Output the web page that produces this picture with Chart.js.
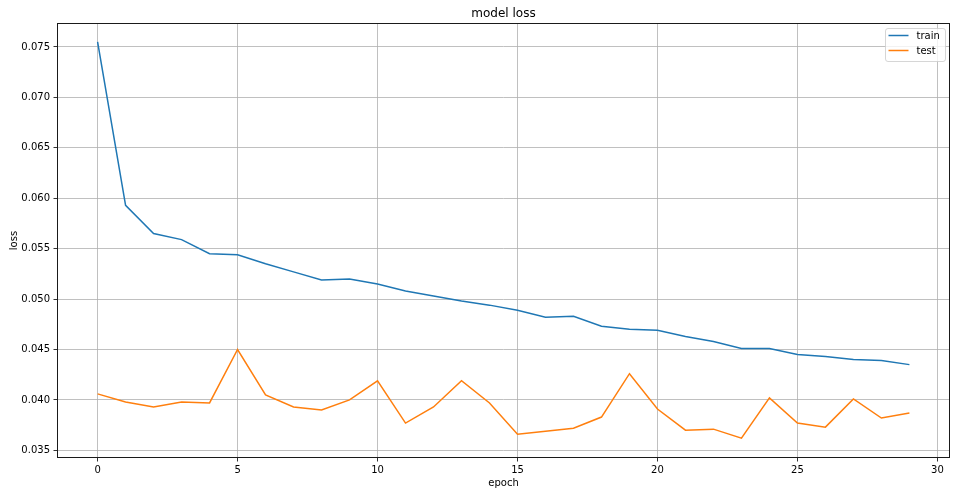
<!DOCTYPE html>
<html>
<head>
<meta charset="utf-8">
<script src="https://cdn.jsdelivr.net/npm/chart.js@4.4.0/dist/chart.umd.min.js"></script>
<style>
  html, body { margin: 0; padding: 0; background: #fff; }
  #c { display: block; }
</style>
</head>
<body>
<canvas id="c" width="960" height="496"></canvas>
<script>
const epochs = [0,1,2,3,4,5,6,7,8,9,10,11,12,13,14,15,16,17,18,19,20,21,22,23,24,25,26,27,28,29];
const trainLoss = [0.0755,0.0593,0.0565,0.0559,0.0545,0.0544,0.0535,0.0527,0.0519,0.0520,0.0515,0.0508,0.0503,0.0498,0.0494,0.0489,0.0482,0.0483,0.0473,0.0470,0.0469,0.0463,0.0458,0.0451,0.0451,0.0445,0.0443,0.0440,0.0439,0.0435];
const testLoss = [0.0406,0.0398,0.0393,0.0398,0.0397,0.0450,0.0405,0.0393,0.0390,0.0400,0.0419,0.0377,0.0393,0.0419,0.0397,0.0366,0.0369,0.0372,0.0383,0.0426,0.0391,0.0370,0.0371,0.0362,0.0402,0.0377,0.0373,0.0401,0.0382,0.0387];
const xTicks = [0,5,10,15,20,25,30];
const yTicks = [0.035,0.040,0.045,0.050,0.055,0.060,0.065,0.070,0.075];
const seriesNames = ['train','test'];
const seriesColors = ['#1f77b4','#ff7f0e'];

const FONT = "'DejaVu Sans', sans-serif";

const framePlugin = {
  id: 'frame',
  afterDatasetsDraw(chart) {
    const {ctx, chartArea: a} = chart;
    const l = Math.floor(a.left) + 0.5, t = Math.floor(a.top) + 0.5;
    const r = Math.ceil(a.right) - 0.5, b = Math.ceil(a.bottom) - 0.5;
    ctx.save();
    ctx.strokeStyle = '#1a1a1a';
    ctx.lineWidth = 1;
    ctx.strokeRect(l, t, r - l, b - t);
    ctx.restore();
  }
};

const legendPlugin = {
  id: 'mplLegend',
  afterDraw(chart) {
    const {ctx, chartArea: a} = chart;
    const ds = chart.data.datasets;
    const w = 60, h = 33;
    const x = a.right - 4.5 - w, y = a.top + 5.5;
    ctx.save();
    ctx.beginPath();
    const r = 2.5;
    ctx.moveTo(x + r, y);
    ctx.lineTo(x + w - r, y); ctx.quadraticCurveTo(x + w, y, x + w, y + r);
    ctx.lineTo(x + w, y + h - r); ctx.quadraticCurveTo(x + w, y + h, x + w - r, y + h);
    ctx.lineTo(x + r, y + h); ctx.quadraticCurveTo(x, y + h, x, y + h - r);
    ctx.lineTo(x, y + r); ctx.quadraticCurveTo(x, y, x + r, y);
    ctx.closePath();
    ctx.fillStyle = 'rgba(255,255,255,0.8)';
    ctx.fill();
    ctx.strokeStyle = 'rgba(204,204,204,1)';
    ctx.lineWidth = 0.8;
    ctx.stroke();
    ds.forEach((d, i) => {
      const ly = y + 7 + i * 15;
      ctx.beginPath();
      ctx.moveTo(x + 3, ly);
      ctx.lineTo(x + 23, ly);
      ctx.strokeStyle = d.borderColor;
      ctx.lineWidth = 1.5;
      ctx.stroke();
      ctx.fillStyle = '#000';
      ctx.font = '10px ' + FONT;
      ctx.textBaseline = 'middle';
      ctx.textAlign = 'left';
      ctx.fillText(d.label, x + 31, ly + 0.5);
    });
    ctx.restore();
  }
};

const datasets = [trainLoss, testLoss].map((vals, i) => ({
  label: seriesNames[i],
  data: epochs.map((e, k) => ({x: e, y: vals[k]})),
  borderColor: seriesColors[i],
  backgroundColor: seriesColors[i],
  borderWidth: 1.5,
  pointRadius: 0,
  tension: 0,
  fill: false
}));

new Chart(document.getElementById('c'), {
  type: 'line',
  data: { datasets },
  options: {
    responsive: false,
    animation: false,
    devicePixelRatio: 1,
    layout: { padding: { left: 0, right: 10, top: 0, bottom: 0 } },
    plugins: {
      legend: { display: false },
      tooltip: { enabled: false },
      title: {
        display: true,
        text: 'model loss',
        fullSize: false,
        color: '#000',
        font: { family: FONT, size: 12, weight: 'normal', lineHeight: 1.2 },
        padding: { top: 6.4, bottom: 2.2 }
      }
    },
    scales: {
      x: {
        type: 'linear',
        min: -1.45,
        max: 30.45,
        afterBuildTicks: s => { s.ticks = xTicks.map(v => ({value: v})); },
        afterFit: s => { s.height = 38; },
        ticks: {
          color: '#000',
          font: { family: FONT, size: 10 },
          padding: 3,
          maxRotation: 0,
          autoSkip: false,
          callback: v => String(v)
        },
        grid: { color: '#b0b0b0', lineWidth: 0.8, tickColor: '#000', tickWidth: 0.8, tickLength: 3.5, drawTicks: true },
        border: { display: false },
        title: {
          display: true, text: 'epoch', color: '#000',
          font: { family: FONT, size: 10, lineHeight: 1.2 },
          padding: { top: 0, bottom: 7 }
        }
      },
      y: {
        type: 'linear',
        min: 0.03424,
        max: 0.07738,
        afterBuildTicks: s => { s.ticks = yTicks.map(v => ({value: v})); },
        afterFit: s => { s.width = 57; },
        ticks: {
          color: '#000',
          font: { family: FONT, size: 10 },
          padding: 3.5,
          autoSkip: false,
          callback: v => Number(v).toFixed(3)
        },
        grid: { color: '#b0b0b0', lineWidth: 0.8, tickColor: '#000', tickWidth: 0.8, tickLength: 3.5, drawTicks: true },
        border: { display: false },
        title: {
          display: true, text: 'loss', color: '#000',
          font: { family: FONT, size: 10, lineHeight: 1.2 },
          padding: { top: 8, bottom: 0 }
        }
      }
    }
  },
  plugins: [framePlugin, legendPlugin]
});
</script>
</body>
</html>
